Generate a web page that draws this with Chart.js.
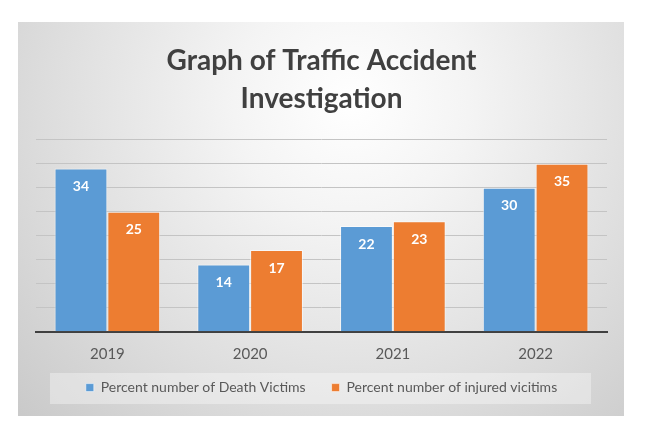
<!DOCTYPE html>
<html>
<head>
<meta charset="utf-8">
<script src="https://cdn.jsdelivr.net/npm/chart.js@4.4.0/dist/chart.umd.min.js"></script>
<style>
  html, body { margin: 0; padding: 0; background: #ffffff; }
  #wrap { position: absolute; left: 18px; top: 22px; width: 606px; height: 394px; }
</style>
</head>
<body>
<div id="wrap"><canvas id="c"></canvas></div>
<script>
const years = ['2019', '2020', '2021', '2022'];
const deathVictims = [34, 14, 22, 30];
const injuredVictims = [25, 17, 23, 35];
const seriesNames = ['Percent number of Death Victims', 'Percent number of injured vicitims'];
const titleLines = ['Graph of Traffic Accident', 'Investigation'];
const FONT = 'Lato, "Open Sans", sans-serif';

const bgPlugin = {
  id: 'bg',
  beforeDraw(chart) {
    const ctx = chart.ctx, w = chart.width, h = chart.height;
    ctx.save();
    const g = ctx.createRadialGradient(w * 0.55, 80, 0, w * 0.55, 80, 470);
    g.addColorStop(0, '#ffffff');
    g.addColorStop(0.25, '#f4f4f4');
    g.addColorStop(0.65, '#dddddd');
    g.addColorStop(1, '#c8c8c8');
    ctx.fillStyle = g;
    ctx.fillRect(0, 0, w, h);
    // legend panel
    ctx.fillStyle = 'rgba(255,255,255,0.35)';
    ctx.fillRect(32, 351, 541, 31);
    ctx.restore();
  }
};

// lift the legend row so its text sits inside the panel
const legendShift = {
  id: 'legendShift',
  afterLayout(chart) {
    const lg = chart.legend;
    if (!lg) return;
    const dy = lg.top - 332.6;
    lg.top -= dy;
    lg.bottom -= dy;
    if (lg.legendHitBoxes) lg.legendHitBoxes.forEach(b => { b.top -= dy; });
  }
};

const labelPlugin = {
  id: 'valueLabels',
  afterDatasetsDraw(chart) {
    const ctx = chart.ctx;
    ctx.save();
    ctx.fillStyle = '#ffffff';
    ctx.font = 'bold 14px ' + FONT;
    ctx.textAlign = 'center';
    ctx.textBaseline = 'middle';
    chart.data.datasets.forEach((ds, di) => {
      chart.getDatasetMeta(di).data.forEach((bar, i) => {
        ctx.fillText(String(ds.data[i]), bar.x, bar.y + 18);
      });
    });
    ctx.restore();
  }
};

new Chart(document.getElementById('c'), {
  type: 'bar',
  data: {
    labels: years,
    datasets: [
      { label: seriesNames[0], data: deathVictims, backgroundColor: '#5B9BD5', borderColor: 'rgba(255,255,255,0.55)', borderWidth: 1 },
      { label: seriesNames[1], data: injuredVictims, backgroundColor: '#ED7D31', borderColor: 'rgba(255,255,255,0.55)', borderWidth: 1 }
    ]
  },
  options: {
    responsive: true,
    maintainAspectRatio: false,
    animation: false,
    layout: { padding: { left: 18, right: 17, top: 0, bottom: 0.2 } },
    datasets: { bar: { barPercentage: 1, categoryPercentage: 0.74 } },
    scales: {
      x: {
        grid: { display: false },
        border: { color: '#404040', width: 2 },
        ticks: { color: '#595959', font: { family: FONT, size: 15 }, padding: 5 },
        afterFit(scale) { scale.height = 34; }
      },
      y: {
        min: 0, max: 40,
        ticks: { display: false, stepSize: 5 },
        grid: { color: '#c4c4c4', lineWidth: 1, drawTicks: false },
        border: { display: false }
      }
    },
    plugins: {
      title: {
        display: true,
        text: titleLines,
        color: '#404040',
        font: { family: FONT, size: 28, weight: 'bold', lineHeight: 1.35 },
        padding: { top: 20, bottom: 22 }
      },
      legend: {
        position: 'bottom',
        labels: {
          color: '#595959',
          font: { family: FONT, size: 14 },
          boxWidth: 8, boxHeight: 8,
          padding: 26
        }
      },
      tooltip: { enabled: false }
    }
  },
  plugins: [bgPlugin, legendShift, labelPlugin]
});
</script>
</body>
</html>
